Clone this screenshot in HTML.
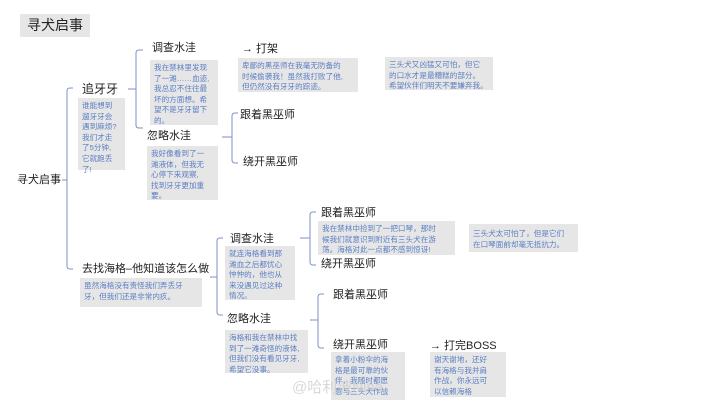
<!DOCTYPE html>
<html><head><meta charset="utf-8"><style>
body{margin:0;width:720px;height:405px;background:#fff;position:relative;overflow:hidden;font-family:"Liberation Sans","Noto Sans CJK SC",sans-serif;}
.t{position:absolute;font-size:11px;color:#222;white-space:nowrap;line-height:14px;}
.n{position:absolute;background:#e6e6e6;color:#5b7ec4;font-size:7.6px;line-height:10.6px;padding:3px 4px;box-sizing:border-box;}
svg{position:absolute;left:0;top:0}
</style></head><body>
<svg width="720" height="405" fill="none" stroke="#7d92c9" stroke-width="1">
<path d="M62 180H67M73 88H70Q67 88 67 91V266Q67 269 70 269H73"/>
<path d="M128 89H136M143 50H139Q136 50 136 53V125Q136 128 139 128H143"/>
<path d="M222 137H232M238 113H235Q232 113 232 116V160Q232 163 235 163H238"/>
<path d="M210 277H217M223 238H220Q217 238 217 241V312Q217 315 220 315H223"/>
<path d="M300 238H310M316 212H313Q310 212 310 215V262Q310 265 313 265H316"/>
<path d="M310 320H318M324 294H321Q318 294 318 297V345Q318 348 321 348H324"/>
</svg>
<div style="position:absolute;left:20px;top:14px;width:70px;height:23px;background:#e6e6e6;font-size:14px;line-height:23px;text-align:center;color:#222">寻犬启事</div>
<div class="t" style="left:17px;top:173px">寻犬启事</div>
<div class="t" style="left:82px;top:82px;font-size:12px">追牙牙</div>
<div class="n" style="left:78px;top:98px;width:47px;height:72px">谁能想到<br>遛牙牙会<br>遇到麻烦?<br>我们才走<br>了5分钟,<br>它就跑丢<br>了!</div>
<div class="t" style="left:152px;top:41px">调查水洼</div>
<div class="n" style="left:150px;top:60px;width:68px;height:65px">我在禁林里发现<br>了一滩……血迹,<br>我总忍不住往最<br>坏的方面想。希<br>望不是牙牙留下<br>的。</div>
<div class="t" style="left:147px;top:129px">忽略水洼</div>
<div class="n" style="left:147px;top:146px;width:71px;height:54px">我好像看到了一<br>滩液体，但我无<br>心停下来观察,<br>找到牙牙更加重<br>要。</div>
<div class="t" style="left:240px;top:108px">跟着黑巫师</div>
<div class="t" style="left:243px;top:155px">绕开黑巫师</div>
<div class="t" style="left:242px;top:42px">→ 打架</div>
<div class="n" style="left:238px;top:58px;width:120px;height:34px">卑鄙的黑巫师在我毫无防备的<br>时候偷袭我！虽然我打败了他,<br>但仍然没有牙牙的踪迹。</div>
<div class="n" style="left:385px;top:57px;width:108px;height:33px">三头犬又凶猛又可怕，但它<br>的口水才是最糟糕的部分。<br>希望伙伴们明天不要嫌弃我。</div>
<div class="t" style="left:82px;top:262px;font-size:11px">去找海格–他知道该怎么做</div>
<div class="n" style="left:80px;top:278px;width:122px;height:29px">虽然海格没有责怪我们弄丢牙<br>牙，但我们还是非常内疚。</div>
<div class="t" style="left:230px;top:232px">调查水洼</div>
<div class="n" style="left:225px;top:246px;width:70px;height:54px">就连海格看到那<br>滩血之后都忧心<br>忡忡的，他也从<br>来没遇见过这种<br>情况。</div>
<div class="t" style="left:227px;top:312px">忽略水洼</div>
<div class="n" style="left:225px;top:330px;width:83px;height:43px">海格和我在禁林中找<br>到了一滩奇怪的液体,<br>但我们没有看见牙牙,<br>希望它没事。</div>
<div class="t" style="left:321px;top:206px">跟着黑巫师</div>
<div class="n" style="left:318px;top:221px;width:137px;height:34px">我在禁林中捡到了一把口琴，那时<br>候我们就意识到附近有三头犬在游<br>荡。海格对此一点都不感到惊讶!</div>
<div class="t" style="left:321px;top:257px">绕开黑巫师</div>
<div class="n" style="left:469px;top:224px;width:109px;height:28px;padding-top:5px">三头犬太可怕了，但是它们<br>在口琴面前却毫无抵抗力。</div>
<div class="t" style="left:333px;top:288px">跟着黑巫师</div>
<div class="t" style="left:333px;top:338px">绕开黑巫师</div>
<div class="n" style="left:331px;top:352px;width:74px;height:48px">拿着小粉伞的海<br>格是最可靠的伙<br>伴，我随时都愿<br>意与三头犬作战</div>
<div class="t" style="left:430px;top:339px">→ 打完BOSS</div>
<div class="n" style="left:430px;top:352px;width:76px;height:45px">谢天谢地，还好<br>有海格与我并肩<br>作战，你永远可<br>以信赖海格</div>
<div style="position:absolute;left:292px;top:376px;font-size:15px;color:rgba(200,200,200,0.7)">@哈利波Nina</div>
</body></html>
